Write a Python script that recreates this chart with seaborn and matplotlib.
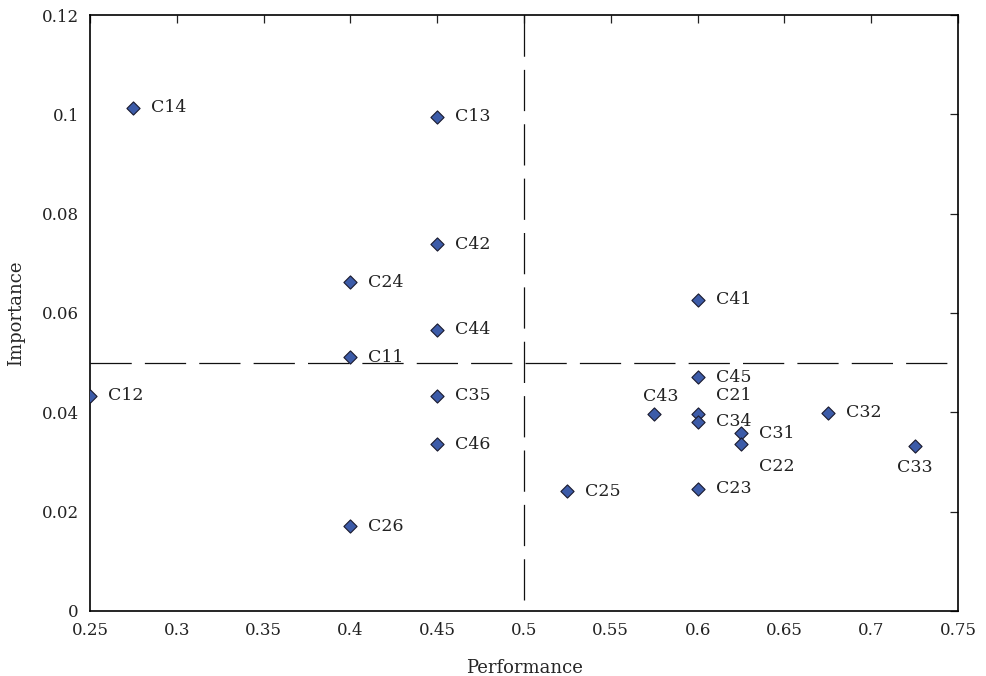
import matplotlib
matplotlib.use("Agg")
import matplotlib.pyplot as plt
import seaborn as sns
import pandas as pd

# Data
labels = ["C14", "C13", "C42", "C24", "C44", "C11", "C12", "C35", "C46", "C26",
          "C41", "C45", "C43", "C21", "C34", "C31", "C22", "C32", "C33", "C25", "C23"]
performance = [0.275, 0.45, 0.45, 0.40, 0.45, 0.40, 0.25, 0.45, 0.45, 0.40,
               0.60, 0.60, 0.575, 0.60, 0.60, 0.625, 0.625, 0.675, 0.725, 0.525, 0.60]
importance = [0.1013, 0.0995, 0.0738, 0.0662, 0.0566, 0.0511, 0.0433, 0.0433, 0.0336, 0.0171,
              0.0627, 0.0471, 0.0397, 0.0397, 0.0381, 0.0358, 0.0336, 0.0399, 0.0332, 0.0241, 0.0246]

x_ticks = [0.25, 0.3, 0.35, 0.4, 0.45, 0.5, 0.55, 0.6, 0.65, 0.7, 0.75]
x_tick_labels = ["0.25", "0.3", "0.35", "0.4", "0.45", "0.5", "0.55", "0.6", "0.65", "0.7", "0.75"]
y_ticks = [0, 0.02, 0.04, 0.06, 0.08, 0.1, 0.12]
y_tick_labels = ["0", "0.02", "0.04", "0.06", "0.08", "0.1", "0.12"]

# label offsets in points (dx, dy) and alignment
label_pos = {
    "C43": (-8, 6, "left", "bottom"),
    "C21": (13, 7, "left", "bottom"),
    "C22": (13, -10, "left", "top"),
    "C33": (0, -9, "center", "top"),
}

df = pd.DataFrame({"Performance": performance, "Importance": importance, "label": labels})

sns.set_style("white")
plt.rcParams["font.family"] = ["DejaVu Serif"]

fig = plt.figure(figsize=(9.87, 6.76), dpi=100)
ax = fig.add_axes([0.0912, 0.0962, 0.8794, 0.8816])

sns.scatterplot(data=df, x="Performance", y="Importance", marker="D", s=45,
                color="#3c5ba8", edgecolor="#1a1a2e", linewidth=0.8, ax=ax, zorder=3)

# quadrant separators (vertical one drawn top-down so the dash starts at the top)
ax.axvline(0.5, ymin=1, ymax=0, color="#111111", lw=0.9, dashes=(33, 10.5), zorder=1)
ax.axhline(0.05, color="#111111", lw=0.9, dashes=(33, 10.5), zorder=1)

for lab, x, y in zip(labels, performance, importance):
    dx, dy, ha, va = label_pos.get(lab, (13, 0, "left", "center"))
    ax.annotate(lab, (x, y), xytext=(dx, dy), textcoords="offset points",
                ha=ha, va=va, fontsize=12.5, color="#222222")

ax.set_xlim(0.25, 0.75)
ax.set_ylim(0, 0.12)
ax.set_xticks(x_ticks)
ax.set_xticklabels(x_tick_labels)
ax.set_yticks(y_ticks)
ax.set_yticklabels(y_tick_labels)
ax.tick_params(direction="in", length=6, width=0.9, top=True, right=True,
               labelsize=12, colors="#222222", pad=8)
for sp in ax.spines.values():
    sp.set_visible(True)
    sp.set_color("black")
    sp.set_linewidth(1.2)

ax.set_xlabel("Performance", fontsize=13, labelpad=14)
ax.set_ylabel("Importance", fontsize=13, labelpad=12)

fig.savefig("out.png", dpi=100)
